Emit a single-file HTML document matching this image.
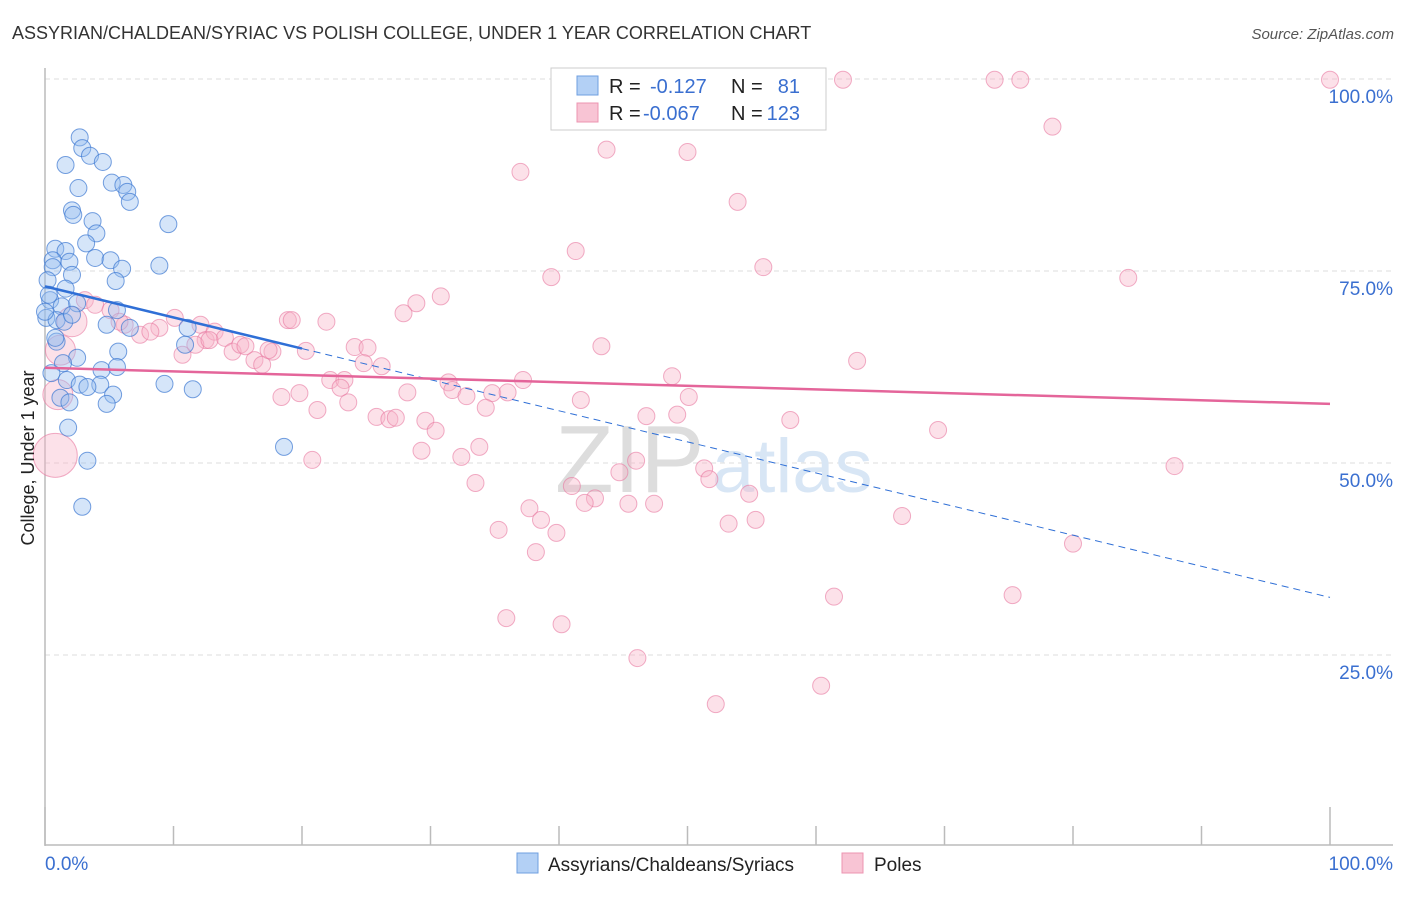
<!DOCTYPE html>
<html><head><meta charset="utf-8"><style>
body{margin:0;background:#fff;font-family:"Liberation Sans",sans-serif}
svg text{font-family:"Liberation Sans",sans-serif}
</style></head><body>
<svg id="chart" width="1406" height="892" viewBox="0 0 1406 892" xmlns="http://www.w3.org/2000/svg">
<text x="12" y="39" font-size="18" fill="#333">ASSYRIAN/CHALDEAN/SYRIAC VS POLISH COLLEGE, UNDER 1 YEAR CORRELATION CHART</text>
<text x="1394" y="39" font-size="15" fill="#555" font-style="italic" text-anchor="end">Source: ZipAtlas.com</text>
<g id="grid"></g>
<g id="axes"></g>
<text x="555" y="492" font-size="96" fill="#ddd" font-family="Liberation Serif">ZIP</text>
<text x="712" y="492" font-size="76" fill="#d8e6f5">atlas</text>
<g id="pts"></g>
<g id="trend"></g>
<text transform="translate(34,458) rotate(-90)" font-size="18" fill="#222" text-anchor="middle">College, Under 1 year</text>
<g>
<rect x="551" y="68" width="275" height="62" fill="#fff" stroke="#ccc"/>
<rect x="577" y="76" width="21" height="19" fill="#b3d0f5" stroke="#6f9fe0"/>
<rect x="577" y="103" width="21" height="19" fill="#f8c4d4" stroke="#ec94b1"/>
<text x="609" y="93" font-size="20" fill="#222">R =</text>
<text x="650" y="93" font-size="20" fill="#3a6fd0">-0.127</text>
<text x="731" y="93" font-size="20" fill="#222">N =</text>
<text x="800" y="93" font-size="20" fill="#3a6fd0" text-anchor="end">81</text>
<text x="609" y="120" font-size="20" fill="#222">R =</text>
<text x="643" y="120" font-size="20" fill="#3a6fd0">-0.067</text>
<text x="731" y="120" font-size="20" fill="#222">N =</text>
<text x="800" y="120" font-size="20" fill="#3a6fd0" text-anchor="end">123</text>
</g>
<g>
<rect x="517" y="853" width="21" height="20" fill="#b3d0f5" stroke="#6f9fe0"/>
<text x="548" y="871" font-size="19" fill="#222">Assyrians/Chaldeans/Syriacs</text>
<rect x="842" y="853" width="21" height="20" fill="#f8c4d4" stroke="#ec94b1"/>
<text x="874" y="871" font-size="19" fill="#222">Poles</text>
</g>
</svg>
<script>
const yTicks=[25,50,75,100];
const yTickLabels=["25.0%","50.0%","75.0%","100.0%"];
const xTicks=[0,10,20,30,40,50,60,70,80,90,100];
const blueX=[2.7,2.9,3.5,4.5,1.6,2.6,5.2,6.1,6.4,6.6,2.1,2.2,3.7,4.0,9.6,3.2,0.8,1.6,0.6,1.9,3.9,5.1,6.0,8.9,0.6,2.1,0.2,5.5,1.6,0.4,1.3,2.5,5.6,0.1,0.9,1.5,2.1,4.8,6.6,10.9,11.1,0.9,5.7,2.5,1.4,4.4,5.6,0.5,1.7,2.7,4.3,5.3,3.3,1.2,1.9,4.8,9.3,11.5,1.8,3.3,18.6,2.9,0,0.3,0.8];
const blueY=[92.4,91.0,90.0,89.2,88.8,85.8,86.5,86.2,85.3,84.0,82.9,82.3,81.5,79.9,81.1,78.6,77.9,77.6,76.4,76.2,76.7,76.4,75.3,75.7,75.5,74.5,73.8,73.7,72.7,71.2,70.4,70.8,69.9,68.9,68.6,68.4,69.3,68.0,67.6,65.4,67.6,65.8,64.5,63.7,63.0,62.1,62.5,61.7,60.8,60.2,60.2,58.9,59.9,58.5,57.9,57.7,60.3,59.6,54.6,50.3,52.1,44.3,69.7,71.9,66.3];
const pinkX=[47.8,62.1,73.9,75.9,100,78.4,43.7,50.0,37.0,53.9,41.3,55.9,39.4,84.3,30.8,28.9,27.9,18.9,19.2,21.9,43.3,63.2,24.1,25.1,26.2,24.8,20.3,22.2,23.3,23.0,23.6,21.2,19.8,18.4,28.2,31.4,31.7,32.8,34.8,36.0,37.2,48.8,50.1,41.7,34.3,25.8,26.8,27.3,29.6,30.4,33.8,29.3,32.4,20.8,46.8,49.2,58.0,69.5,46.0,44.7,51.3,51.7,33.5,41.0,42.8,42.0,45.4,47.4,54.8,87.9,37.7,38.6,39.8,53.2,55.3,66.7,35.3,38.2,80.0,61.4,75.3,35.9,40.2,46.1,60.4,52.2,3.1,3.9,5.1,6.2,7.4,8.9,10.1,10.7,12.1,12.5,13.2,14.0,14.6,15.2,16.3,16.9,17.7,5.8,8.2,11.7,12.8,15.6,17.4,0.8,1.0,2.1,1.2];
const pinkY=[100,99.9,99.9,99.9,99.9,93.8,90.8,90.5,87.9,84.0,77.6,75.5,74.2,74.1,71.7,70.8,69.5,68.6,68.6,68.4,65.2,63.3,65.1,65.0,62.6,63.0,64.6,60.8,60.8,59.8,57.9,56.9,59.1,58.6,59.2,60.5,59.5,58.7,59.1,59.2,60.8,61.3,58.6,58.2,57.2,56.0,55.7,55.9,55.5,54.2,52.1,51.6,50.8,50.4,56.1,56.3,55.6,54.3,50.3,48.8,49.3,47.9,47.4,47.0,45.4,44.8,44.7,44.7,46.0,49.6,44.1,42.6,40.9,42.1,42.6,43.1,41.3,38.4,39.5,32.6,32.8,29.8,29.0,24.6,21.0,18.6,71.2,70.6,69.9,68.0,66.7,67.6,68.9,64.1,68.0,66.0,67.1,66.3,64.5,65.4,63.4,62.8,64.5,68.4,67.1,65.4,66.0,65.2,64.7,51.0,58.9,68.4,64.7];
const pinkBig=[0.8,1.0,2.1,1.2];
const blueTrend=[73.0,-0.405]; // intercept, slope
const pinkTrend=[62.4,-0.047];
const X=v=>45+v*12.85, Y=v=>847-v*7.68;
const NS="http://www.w3.org/2000/svg";
function mk(p,t,a){const e=document.createElementNS(NS,t);for(const k in a)e.setAttribute(k,a[k]);document.getElementById(p).appendChild(e);return e;}
yTicks.forEach((t,i)=>{
 const l=mk('grid','line',{x1:45,x2:1393,y1:Y(t),y2:Y(t),stroke:'#ddd','stroke-dasharray':'5,4'});
 
 
 const tx=mk('grid','text',{x:1393,y:Y(t)+24,'font-size':19,fill:'#3a6fd0','text-anchor':'end'});
 tx.textContent=yTickLabels[i];
 
 
});
mk('axes','line',{x1:45,x2:45,y1:68,y2:846,stroke:'#bbb','stroke-width':1.5});
mk('axes','line',{x1:45,x2:1393,y1:845,y2:845,stroke:'#bbb','stroke-width':1.5});
xTicks.forEach(t=>{
 const big=(t===0||t===100);
 const l=mk('axes','line',{x1:X(t),x2:X(t),y1:big?807:826,y2:845,stroke:'#bbb','stroke-width':1.5});
 
 
});
let a=mk('axes','text',{x:45,y:870,'font-size':19,fill:'#3a6fd0'});a.textContent='0.0%';


a=mk('axes','text',{x:1393,y:870,'font-size':19,fill:'#3a6fd0','text-anchor':'end'});a.textContent='100.0%';


pinkX.forEach((x,i)=>{
 const big=i>=pinkX.length-pinkBig.length;
 const c=mk('pts','circle',{cx:X(x),cy:Y(pinkY[i]),r:big?(i===pinkX.length-4?22:15):8.5,fill:'rgba(248,180,200,0.4)',stroke:'rgba(232,120,160,0.6)','stroke-width':1});
 
 
});
blueX.forEach((x,i)=>{
 const c=mk('pts','circle',{cx:X(x),cy:Y(blueY[i]),r:8.5,fill:'rgba(150,190,240,0.4)',stroke:'rgba(60,120,210,0.7)','stroke-width':1});
 
 
});
const bt=x=>blueTrend[0]+blueTrend[1]*x, pt=x=>pinkTrend[0]+pinkTrend[1]*x;
let t=mk('trend','line',{x1:X(0),y1:Y(bt(0)),x2:X(20),y2:Y(bt(20)),stroke:'#2f6fd6','stroke-width':2.5});


t=mk('trend','line',{x1:X(20),y1:Y(bt(20)),x2:X(100),y2:Y(bt(100)),stroke:'#2f6fd6','stroke-width':1,'stroke-dasharray':'7,5'});


t=mk('trend','line',{x1:X(0),y1:Y(pt(0)),x2:X(100),y2:Y(pt(100)),stroke:'#e4659a','stroke-width':2.5});


</script>
</body></html>
